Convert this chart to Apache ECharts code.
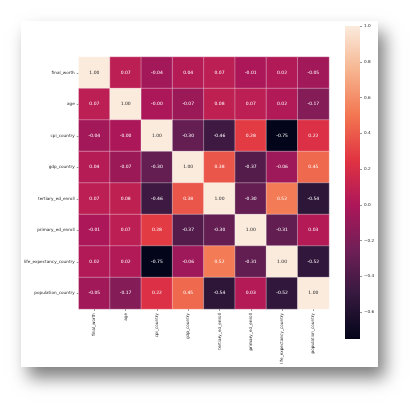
<!DOCTYPE html>
<html>
<head>
<meta charset="utf-8">
<script src="https://cdn.jsdelivr.net/npm/echarts@6/dist/echarts.min.js"></script>
<style>
  html, body { margin: 0; padding: 0; background: #ffffff; width: 420px; height: 409px; overflow: hidden; }
  #card { position: absolute; left: 21px; top: 21px; width: 357px; height: 346px; background: #ffffff;
          box-shadow: 7px 11px 16px rgba(0,0,0,0.5); }
  #chart { width: 357px; height: 346px; }
</style>
</head>
<body>
<div id="card"><div id="chart"></div></div>
<script>
const categories = ['final_worth', 'age', 'cpi_country', 'gdp_country', 'tertiary_ed_enroll',
  'primary_ed_enroll', 'life_expectancy_country', 'population_country'];

const final_worth             = [1.00, 0.07, -0.04, 0.04, 0.07, -0.01, 0.02, -0.05];
const age                     = [0.07, 1.00, -0.004, -0.07, 0.08, 0.07, 0.02, -0.17];
const cpi_country             = [-0.04, -0.004, 1.00, -0.30, -0.46, 0.28, -0.75, 0.22];
const gdp_country             = [0.04, -0.07, -0.30, 1.00, 0.38, -0.37, -0.06, 0.45];
const tertiary_ed_enroll      = [0.07, 0.08, -0.46, 0.38, 1.00, -0.30, 0.52, -0.54];
const primary_ed_enroll       = [-0.01, 0.07, 0.28, -0.37, -0.30, 1.00, -0.31, 0.03];
const life_expectancy_country = [0.02, 0.02, -0.75, -0.06, 0.52, -0.31, 1.00, -0.52];
const population_country      = [-0.05, -0.17, 0.22, 0.45, -0.54, 0.03, -0.52, 1.00];

const rows = [final_worth, age, cpi_country, gdp_country, tertiary_ed_enroll,
  primary_ed_enroll, life_expectancy_country, population_country];

const colorbarTicks = [-0.6, -0.4, -0.2, 0.0, 0.2, 0.4, 0.6, 0.8, 1.0];
const vmin = -0.75, vmax = 1.0;

// seaborn "rocket" colormap, evenly spaced stops
const rocket = ['#03051a', '#35193e', '#701f57', '#ad1759', '#e13342', '#f37651', '#f6b48f', '#faebdd'];

const data = [];
rows.forEach((row, yi) => {
  row.forEach((v, xi) => {
    data.push({
      value: [xi, yi, v],
      label: { color: v > 0.7 ? '#262626' : '#ffffff' }
    });
  });
});

const font = 'DejaVu Sans';
const axisFont = 4.2;
const chart = echarts.init(document.getElementById('chart'), null, { renderer: 'canvas' });

const gradStops = rocket.map((c, i) => ({ offset: 1 - i / (rocket.length - 1), color: c }));

chart.setOption({
  animation: false,
  backgroundColor: '#ffffff',
  grid: [
    { left: 56, top: 36, width: 252, height: 252 },
    { left: 324, top: 5, width: 15, height: 313 }
  ],
  xAxis: [
    {
      type: 'category', gridIndex: 0, data: categories, position: 'bottom',
      axisLine: { show: false },
      axisTick: { show: true, alignWithLabel: true, length: 2, lineStyle: { color: '#333', width: 0.5 } },
      axisLabel: { rotate: 90, fontSize: axisFont, color: '#262626', fontFamily: font, margin: 4, interval: 0 },
      splitLine: { show: false }
    },
    {
      type: 'category', gridIndex: 1, data: ['cb'], show: false
    }
  ],
  yAxis: [
    {
      type: 'category', gridIndex: 0, data: categories, inverse: true,
      axisLine: { show: false },
      axisTick: { show: true, alignWithLabel: true, length: 2, lineStyle: { color: '#333', width: 0.5 } },
      axisLabel: { fontSize: axisFont, color: '#262626', fontFamily: font, margin: 4, interval: 0 },
      splitLine: { show: false }
    },
    {
      type: 'value', gridIndex: 1, min: vmin, max: vmax, position: 'right',
      axisLine: { show: false },
      splitLine: { show: false },
      axisTick: { show: true, length: 2, customValues: colorbarTicks, lineStyle: { color: '#333', width: 0.5 } },
      axisLabel: {
        fontSize: axisFont, color: '#262626', fontFamily: font, margin: 4,
        customValues: colorbarTicks,
        formatter: v => v.toFixed(1).replace('-', '\u2212')
      }
    }
  ],
  visualMap: {
    show: false, min: vmin, max: vmax, dimension: 2, seriesIndex: 0,
    inRange: { color: rocket }
  },
  series: [
    {
      type: 'heatmap', xAxisIndex: 0, yAxisIndex: 0, data: data,
      itemStyle: { borderColor: 'rgba(255,255,255,0.55)', borderWidth: 0.6 },
      label: {
        show: true, fontSize: 4.5, fontFamily: font,
        formatter: p => p.value[2].toFixed(2)
      },
      emphasis: { disabled: true }
    },
    {
      type: 'custom', xAxisIndex: 1, yAxisIndex: 1,
      data: [[0, vmin, vmax]],
      encode: { x: 0, y: [1, 2] },
      renderItem: (params, api) => {
        const top = api.coord([api.value(0), api.value(2)]);
        const bot = api.coord([api.value(0), api.value(1)]);
        const cs = params.coordSys;
        return {
          type: 'rect',
          shape: { x: cs.x, y: top[1], width: cs.width, height: bot[1] - top[1] },
          style: { fill: new echarts.graphic.LinearGradient(0, 0, 0, 1, gradStops) }
        };
      }
    }
  ]
});
</script>
</body>
</html>
